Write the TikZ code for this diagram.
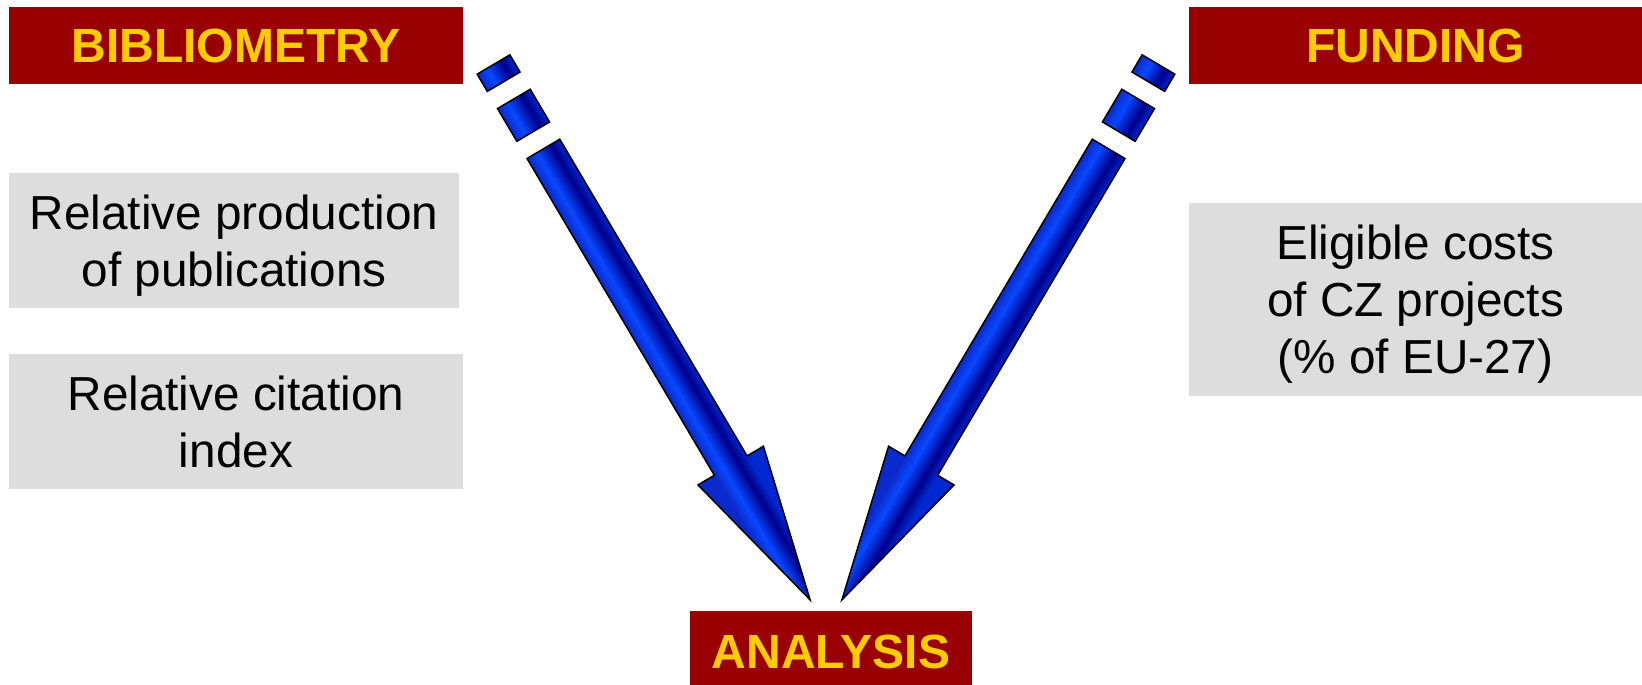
\documentclass[tikz,border=0pt]{standalone}
\usepackage{fontspec}
\setmainfont{Liberation Sans}
\usepackage{tikz}
\usepackage{xcolor}

\definecolor{headred}{HTML}{990000}
\definecolor{headyellow}{HTML}{FFCC00}
\definecolor{boxgrey}{HTML}{DDDDDD}
\definecolor{arrowmid}{HTML}{0A2ACC}
\definecolor{arrowbright}{HTML}{0848FF}
\definecolor{arrowdark}{HTML}{00008A}
\definecolor{arrowedge}{HTML}{0028D0}

\pgfdeclarehorizontalshading{arrowshade}{100bp}{color(0bp)=(arrowmid); color(37.5bp)=(arrowmid); color(45bp)=(arrowbright); color(55.5bp)=(arrowdark); color(62.5bp)=(arrowedge); color(100bp)=(arrowedge)}

\tikzset{
	headbox/.style={fill=headred, text=headyellow, font=\fontsize{48}{57}\selectfont\bfseries, inner sep=0pt},
	greybox/.style={fill=boxgrey, font=\fontsize{47.7}{57}\selectfont, align=center, inner sep=0pt, text depth=0pt},
	arrowline/.style={draw=black, line width=1.5pt}
}

\newcommand\bigarrow{%
	\foreach \a/\b in {0/20,40/78}{
		\begin{scope}
			\clip (-19,\a) rectangle (19,\b);
			\shade[shading=arrowshade] (-38,\a) rectangle (38,\b);
		\end{scope}
		\draw[arrowline] (-19,\a) rectangle (19,\b);
	}
	\begin{scope}
		\clip (-19,98) -- (19,98) -- (19,466) -- (38,466) -- (0,622) -- (-38,466) -- (-19,466) -- cycle;
		\shade[shading=arrowshade] (-38,98) rectangle (38,622);
	\end{scope}
	\draw[arrowline] (-19,98) -- (19,98) -- (19,466) -- (38,466) -- (0,622) -- (-38,466) -- (-19,466) -- cycle;
}

\begin{document}
\begin{tikzpicture}[x=1pt,y=-1pt]
			\useasboundingbox[fill=white] (0,0) rectangle (1642,685);
			\def\tilt{30.6}
			\node[headbox, minimum width=454pt, minimum height=77pt] (bib) at (236,45.5) {BIBLIOMETRY};
			\node[headbox, minimum width=453pt, minimum height=77pt] (fund) at (1415.5,45.5) {FUNDING};
			\node[greybox, minimum width=450pt, minimum height=135pt] (prod) at (234,240.5) {Relative production\\of publications};
			\node[greybox, minimum width=454pt, minimum height=135pt] (cite) at (236,421.5) {Relative citation\\index};
			\node[greybox, minimum width=453pt, minimum height=193pt] (costs) at (1415.5,299.5) {Eligible costs\\ of CZ projects\\(\% of EU-27)};
			\node[headbox, minimum width=282pt, minimum height=81pt] (analysis) at (831,651.5) {ANALYSIS};
			\begin{scope}[transform canvas={shift={(493.5,64.5)},rotate=\tilt}]
				\bigarrow
			\end{scope}
			\begin{scope}[transform canvas={shift={(1158.5,64.5)},rotate=-\tilt}]
				\bigarrow
			\end{scope}
		\end{tikzpicture}
\end{document}
